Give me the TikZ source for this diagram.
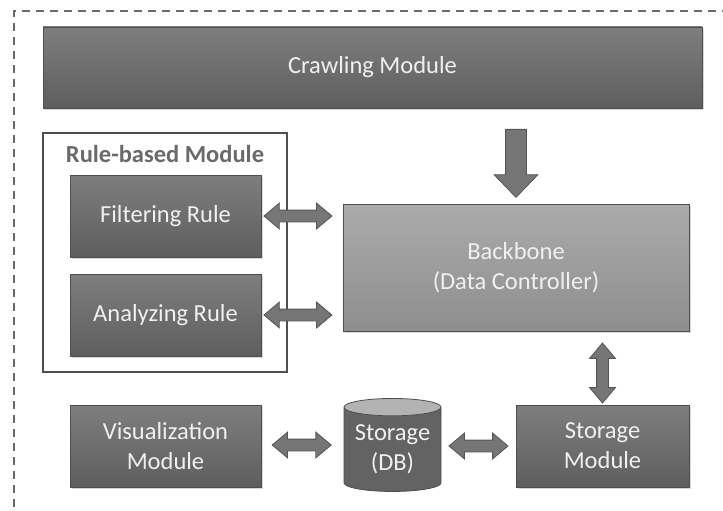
\documentclass[tikz,border=0pt]{standalone}
\usepackage{fontspec}
\setmainfont{Carlito}
\usetikzlibrary{shapes.geometric,shapes.arrows,shadows,calc}

\definecolor{boxtop}{HTML}{7E7E7E}
\definecolor{boxbot}{HTML}{5E5E5E}
\definecolor{coretop}{HTML}{ABABAB}
\definecolor{corebot}{HTML}{8E8E8E}
\definecolor{edgegray}{HTML}{4E4E4E}
\definecolor{arrowfill}{HTML}{767676}
\definecolor{arrowedge}{HTML}{555555}
\definecolor{labelgray}{HTML}{6A6A6A}
\definecolor{framegray}{HTML}{6C6C6C}

\begin{document}
\begin{tikzpicture}[x=1pt,y=-1pt,
  font=\fontsize{24.5}{30}\selectfont,
  module/.style={rectangle, draw=edgegray, line width=0.8pt, top color=boxtop, bottom color=boxbot,
    text=white!94!black, align=center, inner sep=0pt,
    drop shadow={shadow xshift=1.5pt, shadow yshift=-2pt, opacity=0.3}},
  core/.style={module, top color=coretop, bottom color=corebot},
  link/.style={double arrow, draw=arrowedge, fill=arrowfill, line width=0.8pt, inner xsep=0pt,
    inner ysep=5.5pt, double arrow head extend=7, double arrow tip angle=80},
  feed/.style={single arrow, draw=arrowedge, fill=arrowfill, line width=0.8pt, inner xsep=0pt,
    inner ysep=10pt, single arrow head extend=11.5, single arrow tip angle=88}]

\useasboundingbox (0,0) rectangle (723,511);
\draw[framegray, line width=1.8pt, dash pattern=on 8pt off 6pt] (730,11) -- (14,11) -- (14,520);

% modules
\node[module, minimum width=659, minimum height=81] (crawl) at (372.5,67.5) {Crawling Module};
\node[draw=edgegray, line width=1.4pt, minimum width=244, minimum height=239] (rulebox) at (165,252.5) {};
\node[text=labelgray, font=\fontsize{24.5}{30}\selectfont\bfseries] (ruletitle) at ($(rulebox.north)+(0,22)$) {Rule-based Module};
\node[module, minimum width=191, minimum height=82] (filter) at (165.5,216) {Filtering Rule};
\node[module, minimum width=191, minimum height=82] (analyze) at (165.5,315) {Analyzing Rule};
\node[core, minimum width=346, minimum height=127] (backbone) at (516,267.5) {Backbone\\(Data Controller)};
\node[module, minimum width=191, minimum height=82] (vis) at (165.5,446) {Visualization\\Module};
\node[module, minimum width=173, minimum height=82] (store) at (602.5,446) {Storage\\Module};
\node[cylinder, shape border rotate=90, aspect=0.23, draw=edgegray, line width=0.8pt,
  cylinder uses custom fill, cylinder body fill=boxbot!85!boxtop, cylinder end fill=coretop!90!white,
  minimum width=97, minimum height=93, inner sep=0pt, align=center, text=white!94!black] (db) at (392.5,449.5)
  {\raisebox{-8pt}{\begin{tabular}{@{}c@{}}Storage\\(DB)\end{tabular}}};

% arrows
\node[feed, rotate=-90, minimum height=68] (crawl2bb) at ($(crawl.south -| backbone.north)!0.5!(backbone.north)+(0,2)$) {};
\node[link, minimum height=68] (filter2bb) at ($(filter.east)!0.45!(filter.east -| backbone.west)$) {};
\node[link, minimum height=68] (analyze2bb) at ($(analyze.east)!0.45!(analyze.east -| backbone.west)$) {};
\node[link, rotate=90, minimum height=60] (bb2store) at ($(backbone.south -| store.north)!0.5!(store.north)+(0,5)$) {};
\node[link, minimum height=59] (vis2db) at ($(vis.east)!0.49!(db.west |- vis.east)+(0,-1)$) {};
\node[link, minimum height=59] (db2store) at ($(db.east |- store.west)!0.5!(store.west)$) {};

\end{tikzpicture}
\end{document}
